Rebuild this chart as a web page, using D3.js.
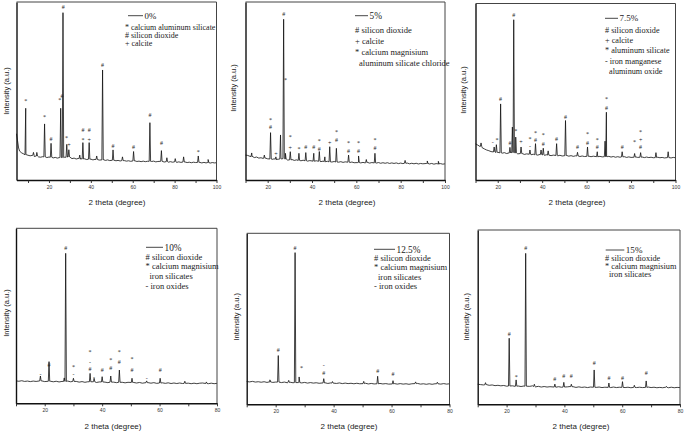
<!DOCTYPE html>
<html><head><meta charset="utf-8">
<script src="https://cdn.jsdelivr.net/npm/d3@7"></script>
<style>body{margin:0;background:#fff}svg{display:block}</style>
</head><body>
<svg id="chart" width="685" height="432"></svg>
<script>
// ---------- DATA ----------
const seriesNames = ["0%", "5%", "7.5%", "10%", "12.5%", "15%"];
const xTicksTop = [10, 20, 30, 40, 50, 60, 70, 80, 90, 100];
const xTicksBottom = [10, 20, 30, 40, 50, 60, 70, 80];
const xTickLabelsTop = [20, 40, 60, 80, 100];
const xTickLabelsBottom = [20, 40, 60, 80];
const xTitle = "2 theta (degree)";
const yTitle = "Intensity (a.u.)";

const legend0 = ["* calcium aluminum silicate", "# silicon dioxide", "+ calcite"];
const legend1 = ["# silicon dioxide", "+ calcite", "* calcium magnisium", "aluminum silicate chloride"];
const legend2 = ["# silicon dioxide", "+ calcite", "* aluminum silicate", "- iron manganese", "aluminum oxide"];
const legend3 = ["# silicon dioxide", "* calcium magnisium", "iron silicates", "- iron oxides"];
const legend4 = ["# silicon dioxide", "* calcium magnisium", "iron silicates", "- iron oxides"];
const legend5 = ["# silicon dioxide", "* calcium magnisium", "iron silicates"];

// background traces [2theta, intensity]
const bg0 = [[4.5,26],[5,22],[5.5,18],[6,16.2],[7,15.2],[8,14.6],[9,14.2],[10,13.9],[11,13.6],[12,13.8],[13,13.2],[14,13.5],[15,13],[16,12.8],[17,13.1],[19,12.6],[20,12.9],[22,12.4],[23,12.7],[24,12.3],[25,12.6],[27.5,12.8],[29,13.2],[31,12],[32,12.3],[33,11.8],[34,12.1],[35,11.7],[37,11.9],[38,11.5],[40,11.7],[41,11.3],[42,11.6],[44,11.2],[46,11.4],[47,11],[48,11.3],[49,10.9],[51,11.1],[52,10.8],[53,11],[54,10.7],[56,10.9],[57,10.6],[58,10.8],[59,10.5],[61,10.8],[62,10.4],[63,10.6],[64,10.3],[65,10.6],[66,10.3],[67,10.5],[69,10.4],[70,10.6],[71,10.2],[72,10.4],[74,10.6],[75,10.1],[76,10.3],[77,10],[78,10.3],[79,10],[80,10.2],[81,9.9],[82,10.2],[83,9.9],[85,10.1],[86,9.8],[87,10],[88,9.7],[89,10],[90,9.8],[92,9.9],[93,9.6],[94,9.9],[95,9.6],[96,9.8],[97,9.5],[98,9.8],[99,9.6],[100,9.7]];
const bg1 = [[10,14],[11,13.8],[12,13.3],[13,13.0],[14,12.6],[15,12.9],[16,12.3],[17,12.5],[18,12.1],[19,12.3],[20,11.9],[22,11.6],[23,11.9],[24,11.4],[25,11.7],[26,12.2],[28,11.8],[29,11.2],[31,11.5],[32,11],[33,11.3],[35,10.8],[36,11.1],[38,10.6],[39,10.9],[41,10.5],[42,10.8],[44,10.3],[45,10.6],[46,10.2],[47,10.5],[49,10.1],[50,10.4],[52,10],[53,10.3],[54,9.9],[55,10.2],[57,9.8],[58,10.1],[59,9.7],[61,10],[62,9.6],[63,9.9],[64,9.6],[65,9.9],[66,9.5],[67,9.8],[69,9.5],[70,9.8],[71,9.4],[72,9.7],[73,9.4],[74,9.7],[75,9.3],[76,9.6],[77,9.3],[78,9.6],[79,9.2],[80,9.5],[81,9.2],[83,9.5],[84,9.1],[85,9.4],[86,9.1],[87,9.4],[88,9],[89,9.3],[90,9.1],[92,9.3],[93,9],[94,9.3],[95,8.9],[96,9.2],[97,8.9],[98,9.2],[99,8.9],[100,9.1]];
const bg2 = [[10,20.5],[11,19.8],[12,19],[13,18.3],[14,17.6],[15,17],[16,16.6],[17,16.1],[18,15.9],[19,15.6],[20,15.7],[22,15.2],[23,15.5],[24,15],[25,15.3],[26,15.6],[28,15.4],[29,14.8],[31,15],[32,14.5],[33,14.8],[35,14.3],[36,14.6],[38,14.1],[39,14.5],[41,14],[42,14.3],[44,13.8],[45,14.1],[47,13.7],[48,14],[49,13.6],[51,13.9],[52,13.5],[53,13.8],[54,13.4],[55,13.7],[57,13.3],[58,13.6],[59,13.3],[61,13.5],[62,13.2],[63,13.5],[65,13.2],[66,13.4],[67,13.1],[69,13.3],[70,13.4],[71,13],[72,13.3],[73,12.9],[74,13.2],[75,12.9],[77,13.2],[78,12.8],[79,13.1],[80,12.8],[82,13.1],[83,12.8],[85,13],[86,12.7],[87,13],[88,12.7],[89,12.9],[90,12.6],[92,12.9],[93,12.6],[94,12.8],[95,12.5],[97,12.8],[98,12.5],[99,12.8],[100,12.6]];
const bg3 = [[10,12.8],[11,12.6],[12,12.9],[13,12.5],[14,12.7],[15,12.4],[16,12.7],[17,12.5],[19,12.8],[20,12.4],[22,12.6],[23,12.3],[24,12.6],[25,12.2],[26,12.5],[28,12.7],[29,12.3],[31,12.5],[32,12.1],[33,12.4],[34,12],[35,12.3],[37,12.4],[38,11.9],[39,12.2],[41,12.1],[42,11.8],[44,12.1],[45,11.8],[47,12],[48,11.7],[49,12],[51,11.9],[52,11.6],[53,11.9],[54,11.5],[56,11.8],[57,11.5],[58,11.8],[59,11.4],[61,11.7],[62,11.4],[63,11.7],[64,11.3],[65,11.6],[66,11.3],[67,11.6],[68,11.3],[70,11.5],[71,11.2],[72,11.5],[73,11.2],[74,11.5],[75,11.6],[77,11.2],[78,11.5],[79,11.2],[80,11.4]];
const bg4 = [[10,13.3],[11,13.1],[12,13.4],[13,13],[14,13.2],[15,12.9],[16,13.2],[17,12.8],[18,13.1],[19,12.8],[20,13],[22,12.7],[23,13],[24,12.6],[25,12.9],[26,12.6],[28,12.9],[29,12.5],[30,12.8],[31,12.4],[32,12.7],[33,12.4],[34,12.6],[35,12.3],[37,12.6],[38,12.2],[39,12.5],[41,12.2],[42,12.5],[43,12.1],[44,12.4],[45,12.1],[46,12.3],[47,12],[48,12.3],[49,12],[51,12.3],[52,11.9],[53,12.2],[54,11.9],[56,12.2],[57,11.9],[58,12.1],[59,11.8],[61,12.1],[62,11.8],[63,12.1],[64,11.8],[65,12],[66,11.7],[67,12],[69,12.2],[70,11.8],[71,12],[72,11.7],[73,12],[74,11.7],[75,12],[77,11.8],[78,12.1],[79,11.8],[80,12]];
const bg5 = [[10,11.5],[11,11.3],[12,11.1],[13,11.3],[14,10.9],[15,11.1],[16,10.7],[17,10.9],[18,10.6],[19,10.8],[20,10.4],[22,10.6],[23,10.3],[24,10.5],[25,10.2],[26,10.5],[28,10.3],[29,10.6],[30,10],[31,10.3],[32,9.9],[33,10.2],[34,9.9],[35,10.1],[37,9.8],[38,10.1],[39,9.8],[41,10],[42,10.2],[43,10.1],[44,9.7],[45,10],[46,9.7],[47,9.9],[48,9.6],[49,9.9],[51,9.7],[52,9.9],[53,9.6],[54,9.8],[56,9.6],[57,9.9],[58,9.6],[59,9.8],[61,9.6],[62,9.8],[63,9.5],[64,9.8],[65,9.6],[66,9.8],[67,9.6],[69,9.9],[70,9.6],[71,9.8],[72,9.5],[73,9.7],[74,9.5],[75,9.8],[76,9.5],[77,9.8],[78,9.5],[79,9.7],[80,9.6]];

// peaks [2theta, base, top]
const pk0 = [[8.9,14.2,40.3],[12.6,13.8,15.5],[14.2,13.5,15.5],[17.9,13,31.5],[21.0,12.8,20.6],[25.6,12.6,40.3],[26.7,12.6,94],[28.5,12.8,20],[29.5,13,17],[34.7,12,14],[36.2,11.8,21],[39.2,11.7,21],[42.8,11.5,13.5],[45.6,11.3,61.8],[50.6,11.1,16.9],[55.1,10.9,13],[60.4,10.7,16],[68.2,10.5,32.2],[73.7,10.5,16.5],[76.3,10.3,12.5],[80.3,10.2,12],[84.3,10.1,13],[91.3,9.9,13.5],[96,9.8,11.5]];
const pk1 = [[12.8,13.2,15.2],[18.5,12.2,14],[21.3,11.8,26.6],[23.7,11.6,13],[25.8,11.8,25.3],[27.2,12,90.3],[28,11.9,15],[30.2,11.3,15.9],[34.1,11,15],[37.2,10.8,15.4],[40.8,10.6,15],[43.3,10.5,16],[45.8,10.3,13],[48,10.2,18.7],[51,10.1,17.8],[56.5,10,14],[61,9.8,13.5],[64.5,9.7,11.5],[68.4,9.6,15],[82,9.4,11],[92,9.3,10.7],[97,9.1,10.5]];
const pk2 = [[12.5,19,21],[18.4,15.9,18.7],[19.4,15.6,20],[21.3,15.4,43.1],[25.5,15.3,18.5],[26.6,15.5,30],[27.2,15.5,90.8],[28.1,15.4,24.3],[30.5,15,18.7],[34.5,14.6,17],[37,14.3,20.6],[39.5,14.4,17],[40.5,14.2,18],[42.7,14.1,16.5],[46.5,13.9,20.6],[50.5,13.8,33.7],[55.9,13.6,15.7],[60.4,13.4,18.7],[64.8,13.2,16],[68.3,13.2,22],[68.9,13.2,38.4],[76,13.1,16],[81.6,12.9,15],[84.3,12.9,15.5],[91.2,12.7,15.5],[96.7,12.7,16]];
const pk3 = [[18.5,12.8,15.6],[21.5,12.6,23.8],[26.8,12.5,14.5],[27.3,12.5,85.7],[30,12.5,14.3],[35.8,12.3,17.1],[37.2,12.3,14.3],[40,12.2,15.2],[43,12.1,15.6],[46,12,19],[50.4,11.9,14.3],[55.5,11.8,12.8],[60.2,11.6,14.3],[68.8,11.4,12.6],[76.3,11.3,12.2]];
const pk4 = [[18,13.1,14.3],[20.9,13,28.5],[24.5,12.8,14],[26.7,12.7,88.7],[28.1,12.7,16],[36.6,12.5,15],[39.6,12.4,13.3],[50.4,12.1,13.4],[55.2,12,16.4],[60.5,11.9,13.8],[68.3,12.1,13.1],[75.8,12,12.9]];
const pk5 = [[12.7,11.2,12.4],[20.9,10.5,37.9],[23.3,10.4,14],[26.6,10.4,86.6],[29.6,10.2,11.5],[36.7,9.9,11.6],[39.8,9.9,12.6],[42.4,10.1,11.5],[50.3,9.8,19.7],[55.4,9.7,12.2],[60.1,9.7,13],[64.2,9.7,10.9],[68.3,9.7,13.4],[75.3,9.7,10.3]];

// phase markers [2theta, intensity, symbol]
const mk0 = [[8.9,44.5,"*"],[17.9,35.5,"*"],[21.0,23,"#"],[25.2,45,"*"],[26.2,47.5,"#"],[26.8,97,"#"],[28.4,23.4,"*"],[29.5,19.5,"+"],[36.2,28,"#"],[36.2,22.5,"*"],[39.2,28,"#"],[39.2,22.8,"+"],[45.6,64.6,"#"],[50.6,19.3,"#"],[60.4,18.7,"#"],[68.2,36.5,"#"],[73.7,21,"#"],[91.3,16,"*"]];
const mk1 = [[21.3,30,"#"],[21.3,34,"*"],[23.7,14.8,"+"],[27.2,93.3,"#"],[28.0,56.2,"*"],[30.2,17.8,"+"],[30.2,24,"*"],[34.1,17.2,"*"],[37.2,18.4,"#"],[40.8,18.7,"#"],[43.3,17.3,"#"],[43.3,21.8,"*"],[48,21,"+"],[51,22.5,"#"],[51,27.2,"*"],[56.5,16.6,"#"],[56.5,20.8,"*"],[61,16.6,"#"],[61,20.8,"*"],[68.4,17.8,"#"],[68.4,22.3,"*"]];
const mk2 = [[17.8,21.5,"-"],[19.7,22.8,"*"],[21.3,45.9,"#"],[25.5,21,"#"],[27.2,93.6,"#"],[28.1,28.1,"*"],[30.5,21.5,"+"],[34.5,23.2,"*"],[34.5,19.5,"-"],[37,26.8,"*"],[37,22.6,"#"],[40.5,25.3,"*"],[40.5,20.2,"#"],[46.5,23.4,"#"],[50.5,35.6,"#"],[55.9,18.7,"#"],[60.4,26.2,"*"],[60.4,21,"#"],[64.8,22.8,"*"],[64.8,18.7,"#"],[68.9,45.9,"*"],[68.9,40.8,"#"],[76,19,"#"],[81.6,21.5,"*"],[84.3,27.4,"*"],[84.3,23,"+"],[84.3,18.8,"#"]];
const mk3 = [[18.5,16.6,"-"],[21.5,21.9,"#"],[27.3,88.6,"#"],[30,20.9,"*"],[30,16.6,"-"],[35.8,29.1,"*"],[35.8,23.8,"-"],[35.8,19.6,"#"],[37.2,15.2,"-"],[40,19,"#"],[43,24.8,"*"],[43,20,"#"],[46,29.5,"*"],[46,23.8,"#"],[50.4,25.3,"*"],[50.4,19,"#"],[55.5,14.7,"-"],[60.2,19,"#"]];
const mk4 = [[20.9,31.8,"#"],[26.7,91.6,"#"],[28.9,21,"*"],[36.6,22.8,"-"],[36.6,18.5,"#"],[55.2,19.5,"#"],[60.5,17.5,"#"]];
const mk5 = [[20.9,40.2,"#"],[23.3,15.9,"*"],[26.6,89.5,"#"],[36.7,14.3,"#"],[39.8,16.3,"#"],[42.4,16.3,"#"],[50.3,23.9,"#"],[55.4,15.3,"#"],[60.1,15.3,"#"],[68.3,18.2,"#"]];

// ---------- LAYOUT ----------
const SANS = "'Liberation Sans', Arial, sans-serif";
const SERIF = "'Liberation Serif', 'Times New Roman', serif";
const panels = [
  {bg:bg0, pk:pk0, mk:mk0, leg:legend0, dom:[4.5,100], ticks:xTicksTop, tl:xTickLabelsTop,
   l:16.5, r:216.5, t:2, b:180, xl:117, xly:204.5, yl:6, yly:91,
   lg:{x1:128, x2:143, ly:15.7, tx:125, ty:26.7, dy:8, fs:8}},
  {bg:bg1, pk:pk1, mk:mk1, leg:legend1, dom:[10,100], ticks:xTicksTop, tl:xTickLabelsTop,
   l:245.5, r:445, t:2, b:180, xl:347, xly:204.5, yl:233, yly:88,
   lg:{x1:355, x2:368, ly:15.7, tx:355, ty:30, dy:10.9, fs:8.5}},
  {bg:bg2, pk:pk2, mk:mk2, leg:legend2, dom:[10,100], ticks:xTicksTop, tl:xTickLabelsTop,
   l:475.5, r:675.5, t:3.5, b:180, xl:577, xly:204.5, yl:463, yly:90,
   lg:{x1:605, x2:618, ly:18.3, tx:605, ty:30, dy:10.25, fs:8.2}},
  {bg:bg3, pk:pk3, mk:mk3, leg:legend3, dom:[10,80], ticks:xTicksBottom, tl:xTickLabelsBottom,
   l:16, r:217, t:228.3, b:403.3, xl:113, xly:428.5, yl:6, yly:313,
   lg:{x1:146, x2:163, ly:247.3, tx:145.5, ty:256.7, dy:9.7, fs:8.5}},
  {bg:bg4, pk:pk4, mk:mk4, leg:legend4, dom:[10,80], ticks:xTicksBottom, tl:xTickLabelsBottom,
   l:246.7, r:449.5, t:233.3, b:404.3, xl:349, xly:428.5, yl:236.7, yly:316.7,
   lg:{x1:374, x2:395, ly:249.3, tx:374, ty:258.3, dy:9.2, fs:8.5}},
  {bg:bg5, pk:pk5, mk:mk5, leg:legend5, dom:[10,80], ticks:xTicksBottom, tl:xTickLabelsBottom,
   l:477.7, r:680, t:230, b:404.3, xl:581, xly:428.5, yl:466, yly:316.7,
   lg:{x1:605.7, x2:624.3, ly:250, tx:605, ty:258.3, dy:8, fs:8.3}}
];

const svg = d3.select("#chart");

panels.forEach((p, i) => {
  const g = svg.append("g");
  const x = d3.scaleLinear().domain(p.dom).range([p.l, p.r]);
  const y = d3.scaleLinear().domain([0, 100]).range([p.b, p.t]);

  // trace: background points + narrow peaks
  const pts = p.bg.map(d => [x(d[0]), y(d[1])]);
  p.pk.forEach(d => {
    pts.push([x(d[0]) - 0.7, y(d[1])]);
    pts.push([x(d[0]), y(d[2])]);
    pts.push([x(d[0]) + 0.7, y(d[1])]);
  });
  pts.sort((a, b) => a[0] - b[0]);
  g.append("path")
    .attr("d", d3.line()(pts))
    .attr("fill", "none")
    .attr("stroke", "#111")
    .attr("stroke-width", 0.8)
    .attr("stroke-linejoin", "round");

  // frame
  g.append("line").attr("x1", p.l).attr("x2", p.r).attr("y1", p.t).attr("y2", p.t)
    .attr("stroke", "#444").attr("stroke-width", 1);
  g.append("line").attr("x1", p.r).attr("x2", p.r).attr("y1", p.t).attr("y2", p.b)
    .attr("stroke", "#444").attr("stroke-width", 1);

  // x axis
  const ax = d3.axisBottom(x).tickValues(p.ticks).tickSize(3).tickSizeOuter(0)
    .tickFormat(v => p.tl.includes(v) ? v : "");
  const axg = g.append("g").attr("transform", `translate(0,${p.b})`).call(ax);
  axg.select(".domain").attr("stroke", "#111").attr("stroke-width", 1.4);
  axg.selectAll(".tick line").attr("stroke", "#222").attr("stroke-width", 0.9);
  axg.selectAll(".tick text").attr("font-family", SANS).attr("font-size", 5)
    .attr("fill", "#333").attr("y", 5.5);

  // y axis (no ticks)
  const ay = d3.axisLeft(y).tickValues([]).tickSizeOuter(0);
  const ayg = g.append("g").attr("transform", `translate(${p.l},0)`).call(ay);
  ayg.select(".domain").attr("stroke", "#111").attr("stroke-width", 1.4);

  // titles
  g.append("text").attr("x", p.xl).attr("y", p.xly).attr("text-anchor", "middle")
    .attr("font-family", SANS).attr("font-size", 8).attr("fill", "#222").text(xTitle);
  g.append("text").attr("transform", `translate(${p.yl},${p.yly}) rotate(-90)`)
    .attr("text-anchor", "middle").attr("dy", "0.35em")
    .attr("font-family", SANS).attr("font-size", 7.5).attr("fill", "#222").text(yTitle);

  // phase markers
  g.selectAll("text.mk").data(p.mk).enter().append("text").attr("class", "mk")
    .attr("x", d => x(d[0])).attr("y", d => y(d[1])).attr("dy", "0.35em")
    .attr("text-anchor", "middle").attr("font-family", SERIF).attr("font-size", 6)
    .attr("fill", "#222").text(d => d[2]);

  // legend
  const lg = p.lg;
  g.append("line").attr("x1", lg.x1).attr("x2", lg.x2).attr("y1", lg.ly).attr("y2", lg.ly)
    .attr("stroke", "#333").attr("stroke-width", 0.9);
  g.append("text").attr("x", lg.x2 + 1.5).attr("y", lg.ly).attr("dy", "0.35em")
    .attr("font-family", SERIF).attr("font-size", lg.fs + 0.8).attr("fill", "#222")
    .text(seriesNames[i]);
  g.selectAll("text.leg").data(p.leg).enter().append("text").attr("class", "leg")
    .attr("x", d => /^[#*+\-]/.test(d) ? lg.tx : lg.tx + 4)
    .attr("y", (d, j) => lg.ty + j * lg.dy).attr("dy", "0.35em")
    .attr("font-family", SERIF).attr("font-size", lg.fs).attr("fill", "#222")
    .text(d => d);
});
</script>
</body></html>
